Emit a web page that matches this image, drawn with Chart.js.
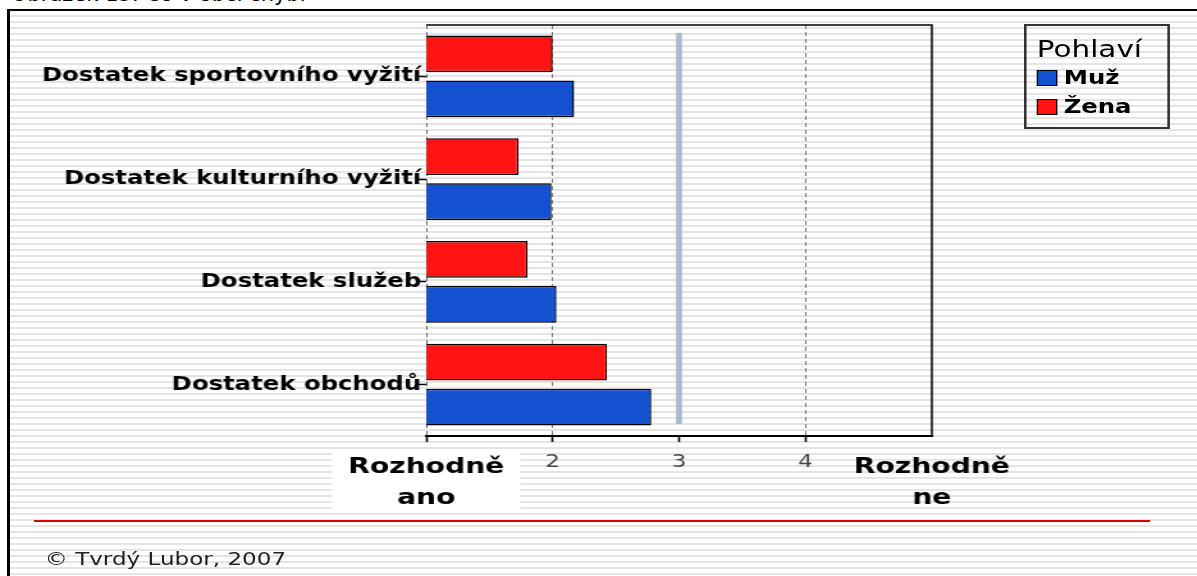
<!DOCTYPE html>
<html lang="cs">
<head>
<meta charset="utf-8">
<title>Co v obci chybí</title>
<script src="https://cdn.jsdelivr.net/npm/chart.js@4.4.1/dist/chart.umd.min.js"></script>
<style>
    html, body { margin: 0; padding: 0; width: 1197px; height: 576px; overflow: hidden; background: #fff; }
    #frame {
        position: absolute; left: 7px; top: 9px; right: 0; bottom: 0;
        border-left: 3px solid #000; border-top: 2px solid #000;
        background: repeating-linear-gradient(to bottom, #fff 0px, #fff 4px, #e4e4e4 4px, #e4e4e4 6px);
    }
    /* the original picture is stretched sideways, so is this one */
    #stage { position: absolute; left: 0; top: 0; width: 935px; height: 576px; transform: scaleX(1.28); transform-origin: 0 0; }
    #chart { position: absolute; left: 0; top: 0; }
    .title {
        position: absolute; left: 11px; top: -16px;
        font-family: "DejaVu Sans"; font-size: 21px; line-height: 21px;
        white-space: nowrap; color: #000;
    }
    .copy { position: absolute; left: 35px; top: 550px; font-family: "DejaVu Sans"; font-size: 18px; line-height: 18px; white-space: nowrap; color: #222; }
    #legend {
        position: absolute; left: 800px; top: 24px; width: 114px; height: 105px;
        border: 2px solid #333; box-sizing: border-box; padding: 10px 0 0 8px;
    }
    #legend .lt { font-family: "DejaVu Sans"; font-size: 23px; line-height: 27px; color: #000; }
    #legend .item { font-family: "DejaVu Sans"; font-weight: bold; font-size: 19px; line-height: 29px; display: flex; align-items: center; color: #000; }
    #legend .sw { width: 16px; height: 16px; border: 1.5px solid #000; box-sizing: border-box; margin-right: 5px; }
    .redline { position: absolute; left: 34px; top: 520px; width: 1116px; height: 2px; background: #d80000; }
</style>
</head>
<body>
<div id="frame"></div>
<div class="title">Obrázek 15: Co v obci chybí</div>
<div class="redline"></div>
<div id="stage">
    <canvas id="chart" width="935" height="576"></canvas>
    <div id="legend"><div class="lt">Pohlaví</div></div>
    <div class="copy">© Tvrdý Lubor, 2007</div>
</div>
<script>
// Données (1 = Rozhodně ano ... 5 = Rozhodně ne)
const categories = ['Dostatek sportovního vyžití', 'Dostatek kulturního vyžití', 'Dostatek služeb', 'Dostatek obchodů'];
const zenaValues = [2.00, 1.73, 1.80, 2.43];
const muzValues = [2.17, 1.99, 2.03, 2.78];
const legendTitle = 'Pohlaví';
const endLabels = { 1: ['Rozhodně', 'ano'], 5: ['Rozhodně', 'ne'] };
const scaleMin = 1;
const scaleMax = 5;
const neutralValue = 3;

const clear = 'rgba(0,0,0,0)';

// Fond blanc derrière "Rozhodně ano"
const labelBoxPlugin = {
    id: 'labelBox',
    beforeDraw(chart) {
        const { ctx, chartArea: a, scales: { x } } = chart;
        const xl = x.getPixelForValue(scaleMin);
        ctx.save();
        ctx.fillStyle = '#fff';
        ctx.fillRect(xl - 73.5, a.bottom + 14, 147, 63);
        ctx.restore();
    }
};

// Ligne médiane bleue + cadre haut/droite
const framePlugin = {
    id: 'frame',
    beforeDatasetsDraw(chart) {
        const { ctx, chartArea: a, scales: { x } } = chart;
        const xm = x.getPixelForValue(neutralValue);
        ctx.save();
        ctx.strokeStyle = '#a8bacd';
        ctx.lineWidth = 4.7;
        ctx.beginPath();
        ctx.moveTo(xm, a.top + 8);
        ctx.lineTo(xm, a.bottom - 12);
        ctx.stroke();
        ctx.strokeStyle = '#000';
        ctx.lineWidth = 1.5;
        ctx.beginPath();
        ctx.moveTo(a.left, a.top);
        ctx.lineTo(a.right, a.top);
        ctx.lineTo(a.right, a.bottom);
        ctx.stroke();
        ctx.restore();
    }
};

const ctx = document.getElementById('chart').getContext('2d');
const chart = new Chart(ctx, {
    type: 'bar',
    data: {
        labels: categories,
        datasets: [
            { label: 'Žena', data: zenaValues, backgroundColor: '#ff1414', borderColor: '#000', borderWidth: 1.5, borderSkipped: false },
            { label: 'Muž', data: muzValues, backgroundColor: '#1552d2', borderColor: '#000', borderWidth: 1.5, borderSkipped: false }
        ]
    },
    options: {
        indexAxis: 'y',
        responsive: false,
        animation: false,
        categoryPercentage: 0.876,
        barPercentage: 0.822,
        layout: { padding: { top: 25, right: 207, bottom: 60, left: 0 } },
        plugins: { legend: { display: false }, tooltip: { enabled: false } },
        scales: {
            x: {
                type: 'linear',
                min: scaleMin,
                max: scaleMax,
                afterFit: s => { s.height = 80; },
                border: { display: true, color: '#000', width: 2, dash: [4, 3] },
                grid: {
                    color: c => (c.tick && (c.tick.value === neutralValue || c.tick.value === scaleMax)) ? clear : '#707070',
                    lineWidth: 1,
                    drawTicks: true,
                    tickLength: 6,
                    tickWidth: 1.6,
                    tickColor: c => (c.tick && c.tick.value === scaleMax) ? clear : '#000'
                },
                ticks: {
                    stepSize: 1,
                    autoSkip: false,
                    maxRotation: 0,
                    padding: 10,
                    callback: v => endLabels[v] || String(v),
                    font: c => (c.tick && endLabels[c.tick.value])
                        ? { family: 'DejaVu Sans', weight: 'bold', size: 22, lineHeight: 1.4 }
                        : { family: 'DejaVu Sans', size: 18 },
                    color: c => (c.tick && endLabels[c.tick.value]) ? '#000' : '#444'
                }
            },
            y: {
                afterFit: s => { s.width = 333; },
                border: { display: false },
                grid: { offset: false, drawOnChartArea: false, drawTicks: true, tickLength: 6, tickColor: '#000', tickWidth: 1.5 },
                ticks: { padding: -2, color: '#000', font: { family: 'DejaVu Sans', weight: 'bold', size: 19 } }
            }
        }
    },
    plugins: [labelBoxPlugin, framePlugin]
});

// Légende (Muž puis Žena, comme sur l'original)
const legendBox = document.getElementById('legend');
legendBox.querySelector('.lt').textContent = legendTitle;
[...chart.data.datasets].reverse().forEach(ds => {
    const row = document.createElement('div');
    row.className = 'item';
    row.innerHTML = `<span class="sw" style="background:${ds.backgroundColor}"></span>${ds.label}`;
    legendBox.appendChild(row);
});
</script>
</body>
</html>
